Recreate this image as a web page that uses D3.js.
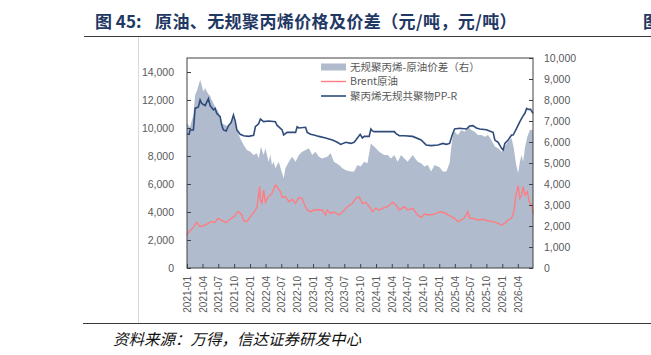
<!DOCTYPE html>
<html>
<head>
<meta charset="utf-8">
<script src="https://cdn.jsdelivr.net/npm/d3@7"></script>
<style>
    body { margin: 0; background: #fff; }
    svg { display: block; font-family: "Liberation Sans", Arial, sans-serif; }
</style>
</head>
<body>
<svg class="chart" width="651" height="355"></svg>
<script>
// ---- data ----
var xTickLabels = ["2021-01","2021-04","2021-07","2021-10","2022-01","2022-04","2022-07","2022-10",
    "2023-01","2023-04","2023-07","2023-10","2024-01","2024-04","2024-07","2024-10",
    "2025-01","2025-04","2025-07","2025-10","2026-01","2026-04"];
var leftTicks = [0, 2000, 4000, 6000, 8000, 10000, 12000, 14000];
var rightTicks = [0, 1000, 2000, 3000, 4000, 5000, 6000, 7000, 8000, 9000, 10000];
var legendLabels = ["无规聚丙烯-原油价差（右）", "Brent原油", "聚丙烯无规共聚物PP-R"];

// spread, right axis (yuan/ton)
var spreadSeries = [
    ["2021-01-01",6900],["2021-01-18",6700],["2021-02-07",7290],["2021-02-17",8240],["2021-02-26",8400],
    ["2021-03-18",8950],["2021-03-27",8710],["2021-04-05",8400],["2021-04-16",8560],["2021-05-05",8270],
    ["2021-05-15",8200],["2021-05-24",8000],["2021-06-13",7680],["2021-07-02",7440],["2021-07-21",6890],
    ["2021-08-10",6810],["2021-08-29",6730],["2021-09-18",7050],["2021-09-27",7130],["2021-10-17",6570],
    ["2021-11-05",6180],["2021-11-25",5860],["2021-12-14",5620],["2022-01-03",5540],["2022-01-22",5380],
    ["2022-02-10",5460],["2022-02-20",5220],["2022-03-05",5770],["2022-03-21",5380],["2022-03-31",5700],
    ["2022-04-19",5050],["2022-04-29",5400],["2022-05-08",4900],["2022-05-18",5060],["2022-05-28",4750],
    ["2022-06-16",5060],["2022-07-06",4510],["2022-07-15",4270],["2022-07-25",4750],["2022-08-14",5060],
    ["2022-09-02",5300],["2022-09-22",5060],["2022-10-11",5380],["2022-10-30",5540],["2022-11-19",5620],
    ["2022-12-08",5700],["2022-12-27",5380],["2023-01-15",5540],["2023-02-04",5300],["2023-02-23",5220],
    ["2023-03-24",5300],["2023-04-13",5460],["2023-05-02",5060],["2023-06-01",4900],["2023-06-20",4750],
    ["2023-07-10",4660],["2023-08-08",4590],["2023-08-27",4600],["2023-09-15",4900],["2023-10-04",4830],
    ["2023-10-24",5060],["2023-11-12",4990],["2023-12-02",5940],["2023-12-11",5860],["2023-12-31",5700],
    ["2024-01-19",5540],["2024-02-17",5380],["2024-03-08",5380],["2024-03-27",5220],["2024-04-16",5380],
    ["2024-05-05",5060],["2024-05-25",5380],["2024-06-13",5220],["2024-07-02",5060],["2024-07-31",5380],
    ["2024-08-29",5060],["2024-09-18",4990],["2024-10-07",4830],["2024-10-27",4900],["2024-11-15",4590],
    ["2024-12-05",4900],["2025-01-03",4800],["2025-01-22",4590],["2025-02-11",4590],["2025-03-02",5000],
    ["2025-03-12",5780],["2025-03-21",6330],["2025-03-31",6490],["2025-04-19",6330],["2025-05-09",6570],
    ["2025-05-28",6490],["2025-06-16",6730],["2025-07-06",6570],["2025-07-25",6490],["2025-08-13",6330],
    ["2025-09-02",6330],["2025-09-22",6250],["2025-10-11",6330],["2025-10-30",6100],["2025-11-19",5780],
    ["2025-12-08",5700],["2025-12-28",5540],["2026-01-16",5780],["2026-02-04",6020],["2026-02-24",6180],
    ["2026-03-09",5700],["2026-03-21",4990],["2026-04-03",4510],["2026-04-13",5060],["2026-04-23",5380],
    ["2026-05-02",5060],["2026-05-12",5700],["2026-05-26",6250],["2026-06-10",6570],["2026-06-28",6570]
];

// Brent crude, left axis
var brentSeries = [
    ["2021-01-01",2360],["2021-01-14",2600],["2021-01-26",2750],["2021-02-07",2900],["2021-02-26",3260],
    ["2021-03-18",2950],["2021-04-16",3070],["2021-05-05",3200],["2021-05-22",3310],["2021-06-13",3250],
    ["2021-06-28",3550],["2021-07-14",3450],["2021-07-31",3310],["2021-08-17",3250],["2021-09-15",3550],
    ["2021-10-03",3700],["2021-10-17",3950],["2021-10-27",4020],["2021-11-15",3790],["2021-11-25",3380],
    ["2021-12-14",3310],["2022-01-03",3650],["2022-02-01",4140],["2022-02-10",4330],["2022-02-26",5810],
    ["2022-03-02",4860],["2022-03-11",4620],["2022-03-21",5570],["2022-03-31",4700],["2022-04-15",5050],
    ["2022-05-08",5330],["2022-05-28",5930],["2022-06-06",5800],["2022-06-26",5450],["2022-07-06",5050],
    ["2022-07-25",5100],["2022-08-14",4740],["2022-09-02",4900],["2022-09-22",4620],["2022-10-11",5050],
    ["2022-10-30",4950],["2022-11-09",4620],["2022-11-28",4140],["2022-12-18",4020],["2023-01-06",4140],
    ["2023-01-25",4160],["2023-02-23",4140],["2023-03-15",3790],["2023-03-24",4140],["2023-04-13",3900],
    ["2023-05-02",4000],["2023-06-01",3790],["2023-06-20",4000],["2023-07-19",4380],["2023-08-17",4620],
    ["2023-09-06",4980],["2023-09-25",5090],["2023-10-14",4620],["2023-11-03",4700],["2023-11-22",4380],
    ["2023-12-11",4020],["2023-12-31",4260],["2024-01-19",4140],["2024-02-08",4260],["2024-03-08",4380],
    ["2024-04-06",4690],["2024-04-26",4500],["2024-05-15",4140],["2024-06-13",4380],["2024-07-02",4140],
    ["2024-07-31",4260],["2024-08-29",3790],["2024-09-18",3600],["2024-10-07",3850],["2024-11-05",3790],
    ["2024-12-05",3850],["2025-01-03",4020],["2025-02-01",3950],["2025-02-20",3790],["2025-03-12",3670],
    ["2025-03-31",3550],["2025-04-19",3310],["2025-05-09",3430],["2025-05-28",3600],["2025-06-16",4020],
    ["2025-06-26",3550],["2025-07-15",3550],["2025-08-13",3430],["2025-09-12",3480],["2025-10-11",3360],
    ["2025-11-09",3310],["2025-12-08",3190],["2025-12-28",3070],["2026-01-16",3190],["2026-02-04",3430],
    ["2026-02-24",3550],["2026-03-09",4020],["2026-03-21",5210],["2026-04-03",5880],["2026-04-13",4980],
    ["2026-04-23",5210],["2026-05-02",5810],["2026-05-12",5210],["2026-05-26",5450],["2026-06-06",4740],
    ["2026-06-20",4500],["2026-06-28",3900]
];

// PP-R random copolymer, left axis
var pprSeries = [
    ["2021-01-01",9550],["2021-01-14",9550],["2021-01-18",9860],["2021-02-07",9860],["2021-02-17",11400],
    ["2021-03-08",11500],["2021-03-18",12000],["2021-03-27",11760],["2021-04-16",11600],["2021-05-05",12100],
    ["2021-05-15",11600],["2021-06-03",11290],["2021-06-13",11400],["2021-06-22",11050],["2021-07-12",10810],
    ["2021-07-21",10210],["2021-07-31",9860],["2021-08-16",9790],["2021-08-29",10170],["2021-09-14",10400],
    ["2021-09-27",10930],["2021-10-07",10500],["2021-10-17",9860],["2021-11-05",9550],["2021-11-25",9450],
    ["2021-12-24",9400],["2022-01-22",9480],["2022-02-01",10090],["2022-02-20",10300],["2022-03-02",10640],
    ["2022-03-21",10460],["2022-04-19",10500],["2022-05-28",10450],["2022-06-06",10200],["2022-07-06",9860],
    ["2022-07-15",9500],["2022-08-04",9690],["2022-09-22",9690],["2022-10-01",10090],["2022-10-11",10000],
    ["2022-11-19",10050],["2022-11-28",9690],["2022-12-18",9550],["2023-01-06",9500],["2023-02-04",9400],
    ["2023-03-15",9290],["2023-04-23",9140],["2023-05-22",8980],["2023-06-10",8830],["2023-07-10",8980],
    ["2023-08-08",8900],["2023-08-27",8980],["2023-09-15",9290],["2023-10-01",9550],["2023-10-14",9290],
    ["2023-10-24",9400],["2023-11-22",9400],["2023-12-02",9930],["2023-12-11",9790],["2023-12-21",9740],
    ["2024-04-16",9740],["2024-04-26",9600],["2024-05-15",9450],["2024-06-13",9450],["2024-07-31",9400],
    ["2024-09-18",9140],["2024-10-17",8790],["2024-11-15",8740],["2024-12-24",8790],["2025-01-22",8900],
    ["2025-02-11",8830],["2025-03-02",8900],["2025-03-17",9500],["2025-03-31",9930],["2025-04-29",9980],
    ["2025-06-07",9930],["2025-06-26",10140],["2025-07-15",10170],["2025-08-04",10000],["2025-08-23",9930],
    ["2025-10-01",9880],["2025-10-30",9740],["2025-11-09",9690],["2025-11-19",9140],["2025-12-08",8980],
    ["2025-12-28",8550],["2026-01-06",8430],["2026-01-16",8900],["2026-02-04",9140],["2026-02-24",9500],
    ["2026-03-05",9500],["2026-03-25",9980],["2026-04-13",10450],["2026-04-29",10810],["2026-05-12",11050],
    ["2026-05-22",11400],["2026-05-31",11330],["2026-06-14",11330],["2026-06-28",11050]
];

var colors = { spread: "#b0bccd", brent: "#ff7c80", ppr: "#2f4b7c" };

/******** Make Chart ********/
var parse = d3.timeParse("%Y-%m-%d");
var svg = d3.select(".chart");

const marginLeft = 187, marginRight = 533, marginTop = 58, marginBottom = 268;

var x = d3.scaleTime()
    .domain([parse("2021-01-01"), parse("2026-06-28")])
    .range([marginLeft, marginRight]);
var yL = d3.scaleLinear().domain([0, 15000]).range([marginBottom, marginTop]);
var yR = d3.scaleLinear().domain([0, 10000]).range([marginBottom, marginTop]);

// title + frame lines
var title = svg.append("text")
    .attr("y", 28)
    .style("font-family", "'Noto Sans CJK SC', sans-serif")
    .style("font-size", "17px").style("font-weight", "bold")
    .style("fill", "#1f3864");
title.append("tspan").attr("x", 95).text("图 45:");
title.append("tspan").attr("x", 155).style("letter-spacing", "0.4px")
    .text("原油、无规聚丙烯价格及价差（元/吨，元/吨）");
svg.append("text")
    .attr("x", 643).attr("y", 28)
    .style("font-family", "'Noto Sans CJK SC', sans-serif")
    .style("font-size", "17px").style("font-weight", "bold")
    .style("fill", "#1f3864")
    .text("图");
svg.append("line").attr("x1", 84).attr("x2", 651).attr("y1", 36.5).attr("y2", 36.5)
    .attr("stroke", "#3a3a3a").attr("stroke-width", 1.2);
svg.append("line").attr("x1", 138.5).attr("x2", 138.5).attr("y1", 37).attr("y2", 323)
    .attr("stroke", "#d9d9d9");
svg.append("line").attr("x1", 83).attr("x2", 651).attr("y1", 323.5).attr("y2", 323.5)
    .attr("stroke", "#3a3a3a").attr("stroke-width", 1.2);
svg.append("text")
    .attr("x", 113).attr("y", 345)
    .style("font-family", "'Noto Sans CJK SC', sans-serif")
    .style("font-size", "15.5px").style("font-style", "italic")
    .style("fill", "#111")
    .text("资料来源：万得，信达证券研发中心");

// spread area (right axis)
var area = d3.area()
    .x(d => x(parse(d[0])))
    .y0(yR(0))
    .y1(d => yR(d[1]));
svg.append("path").datum(spreadSeries)
    .attr("d", area)
    .attr("fill", colors.spread);

var lineL = d3.line()
    .x(d => x(parse(d[0])))
    .y(d => yL(d[1]));
svg.append("path").datum(brentSeries)
    .attr("d", lineL).attr("fill", "none")
    .attr("stroke", colors.brent).attr("stroke-width", 1.4);
svg.append("path").datum(pprSeries)
    .attr("d", lineL).attr("fill", "none")
    .attr("stroke", colors.ppr).attr("stroke-width", 1.6);

// plot border
svg.append("rect")
    .attr("x", marginLeft).attr("y", marginTop)
    .attr("width", marginRight - marginLeft).attr("height", marginBottom - marginTop)
    .attr("fill", "none").attr("stroke", "#404040");

// axes
var leftAxis = svg.append("g")
    .attr("transform", `translate(${marginLeft},0)`)
    .call(d3.axisLeft(yL).tickValues(leftTicks).tickFormat(d3.format(",")).tickSize(-4).tickPadding(13));
var rightAxis = svg.append("g")
    .attr("transform", `translate(${marginRight},0)`)
    .call(d3.axisRight(yR).tickValues(rightTicks).tickFormat(d3.format(",")).tickSize(-4).tickPadding(11));
var bottomAxis = svg.append("g")
    .attr("transform", `translate(0,${marginBottom})`)
    .call(d3.axisBottom(x)
        .tickValues(xTickLabels.map(s => parse(s + "-01")))
        .tickFormat(d3.timeFormat("%Y-%m"))
        .tickSize(-4));

[leftAxis, rightAxis, bottomAxis].forEach(g => {
    g.select(".domain").remove();
    g.selectAll("line").attr("stroke", "#404040");
    g.selectAll("text")
        .style("font-family", "'Liberation Sans', Arial, sans-serif")
        .style("fill", "#595959");
});
leftAxis.selectAll("text").style("font-size", "10.5px");
rightAxis.selectAll("text").style("font-size", "10.5px");
bottomAxis.selectAll("text")
    .style("font-size", "10px")
    .attr("transform", "rotate(-90)")
    .attr("text-anchor", "end")
    .attr("x", -8).attr("y", 0)
    .attr("dy", "0.35em");

// legend
var legend = svg.append("g").attr("class", "legend");
var rows = [67, 81.5, 96];
legend.append("rect").attr("x", 321).attr("y", rows[0] - 3.5).attr("width", 25).attr("height", 7)
    .attr("fill", colors.spread);
legend.append("line").attr("x1", 321).attr("x2", 346).attr("y1", rows[1]).attr("y2", rows[1])
    .attr("stroke", colors.brent).attr("stroke-width", 1.4);
legend.append("line").attr("x1", 321).attr("x2", 346).attr("y1", rows[2]).attr("y2", rows[2])
    .attr("stroke", colors.ppr).attr("stroke-width", 1.6);
legend.selectAll(".legend-text")
    .data(legendLabels)
    .enter()
    .append("text")
    .attr("class", "legend-text")
    .attr("x", 350)
    .attr("y", (d, i) => rows[i])
    .attr("dy", "0.36em")
    .style("font-family", "'Noto Sans CJK SC', sans-serif")
    .style("font-size", "10.5px")
    .style("fill", "#595959")
    .text(d => d);
</script>
</body>
</html>
